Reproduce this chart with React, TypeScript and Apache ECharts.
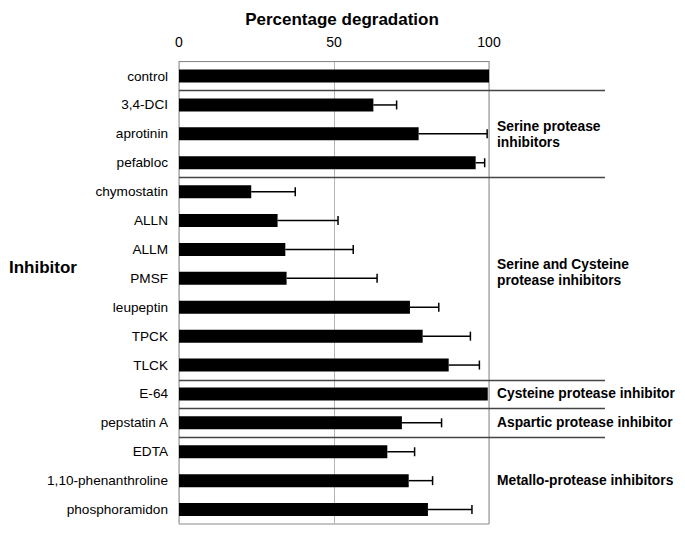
import React, { useEffect, useRef } from "react";
import * as echarts from "echarts";

const categories = [
  "control", "3,4-DCI", "aprotinin", "pefabloc", "chymostatin", "ALLN", "ALLM", "PMSF",
  "leupeptin", "TPCK", "TLCK", "E-64", "pepstatin A", "EDTA", "1,10-phenanthroline", "phosphoramidon",
];
const values = [100, 62.7, 77.3, 95.7, 23.3, 31.8, 34.3, 34.7, 74.5, 78.6, 87, 99.6, 71.9, 67.2, 74.1, 80.3];
const errors = [0, 7.5, 22.1, 2.9, 14.2, 19.5, 21.9, 29.2, 9.3, 15.4, 9.9, 0, 12.8, 8.8, 7.7, 14.2];
const xTicks = [0, 50, 100];
// separators drawn after these row indices
const separatorsAfter = [0, 3, 10, 11, 12];
const groupNames = [
  "Serine protease\ninhibitors",
  "Serine and Cysteine\nprotease inhibitors",
  "Cysteine protease inhibitor",
  "Aspartic protease inhibitor",
  "Metallo-protease inhibitors",
];
const groupLabelRows = [2.03, 6.8, 11, 12, 14];
const SEPARATOR_END = 137.4;

const FONT = "'Liberation Sans', Arial, Helvetica, sans-serif";

export default function App() {
  const ref = useRef<HTMLDivElement>(null);
  useEffect(() => {
    document.body.style.margin = "0";
    const chart = echarts.init(ref.current!, null, { renderer: "svg" });
    chart.setOption({
      animation: false,
      backgroundColor: "#fff",
      textStyle: { fontFamily: FONT },
      grid: { left: 179, top: 61.6, width: 310, height: 462.4, show: true, borderColor: "#8a8a8a", borderWidth: 1, containLabel: false },
      graphic: [
        { type: "text", x: 342, y: 19, style: { text: "Percentage degradation", font: `bold 17px ${FONT}`, fill: "#000", textAlign: "center", textVerticalAlign: "middle" } },
        { type: "text", x: 9, y: 267, style: { text: "Inhibitor", font: `bold 17px ${FONT}`, fill: "#000", textAlign: "left", textVerticalAlign: "middle" } },
      ],
      xAxis: {
        type: "value",
        position: "top",
        min: xTicks[0],
        max: xTicks[xTicks.length - 1],
        interval: xTicks[1] - xTicks[0],
        axisLine: { show: true, lineStyle: { color: "#8a8a8a", width: 1 } },
        axisTick: { show: false },
        axisLabel: { fontSize: 14, color: "#000", margin: 13, fontFamily: FONT },
        splitLine: { show: true, lineStyle: { color: "#b5b5b5", width: 1 } },
      },
      yAxis: {
        type: "category",
        inverse: true,
        data: categories,
        axisLine: { show: false },
        axisTick: { show: false },
        axisLabel: { fontSize: 13.6, color: "#000", margin: 11, fontFamily: FONT },
        splitLine: { show: false },
      },
      series: [
        {
          type: "bar",
          data: values,
          barWidth: 13,
          itemStyle: { color: "#000" },
          z: 3,
        },
        {
          type: "custom",
          z: 4,
          data: values.map((v, i) => [v, i, errors[i]]),
          renderItem: (params: any, api: any) => {
            const v = api.value(0);
            const i = api.value(1);
            const e = api.value(2);
            if (!e) return null;
            const s = api.coord([v, i]);
            const t = api.coord([v + e, i]);
            return {
              type: "group",
              children: [
                { type: "line", shape: { x1: s[0], y1: s[1], x2: t[0], y2: t[1] }, style: { stroke: "#000", lineWidth: 1.5 } },
                { type: "line", shape: { x1: t[0], y1: t[1] - 4.5, x2: t[0], y2: t[1] + 4.5 }, style: { stroke: "#000", lineWidth: 1.5 } },
              ],
            };
          },
        },
        {
          type: "custom",
          z: 5,
          clip: false,
          data: separatorsAfter.map((r) => [0, r]),
          renderItem: (params: any, api: any) => {
            const r = api.value(1);
            const p = api.coord([0, r]);
            const q = api.coord([SEPARATOR_END, r]);
            const band = api.size([0, 1])[1];
            const y = Math.round(p[1] + band / 2) + 0.5;
            return { type: "line", shape: { x1: p[0], y1: y, x2: q[0], y2: y }, style: { stroke: "#444", lineWidth: 1.3 } };
          },
        },
        {
          type: "custom",
          z: 5,
          clip: false,
          data: groupLabelRows.map((r, k) => [100, r, k]),
          renderItem: (params: any, api: any) => {
            const r = api.value(1);
            const k = api.value(2);
            const i0 = Math.floor(r);
            const p0 = api.coord([100, i0]);
            const band = api.size([0, 1])[1];
            const y = p0[1] + (r - i0) * band;
            return {
              type: "text",
              x: p0[0] + 8,
              y,
              style: {
                text: groupNames[k],
                font: `bold 13.8px ${FONT}`,
                lineHeight: 16.5,
                fill: "#000",
                textAlign: "left",
                textVerticalAlign: "middle",
              },
            };
          },
        },
      ],
    });
    return () => chart.dispose();
  }, []);
  return <div ref={ref} style={{ width: 685, height: 538 }} />;
}
